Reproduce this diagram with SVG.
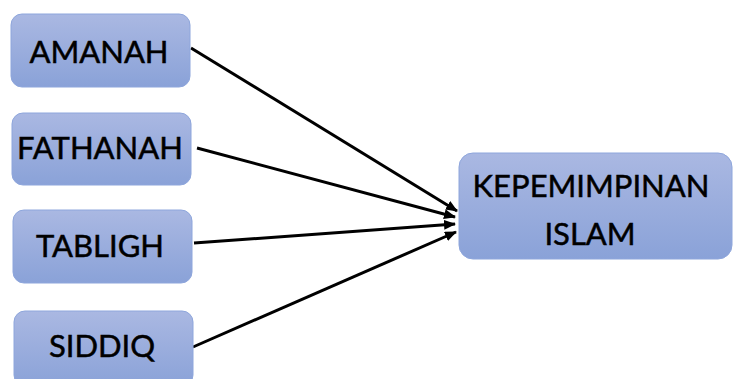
<svg xmlns="http://www.w3.org/2000/svg" width="733" height="379" viewBox="0 0 733 379">
<defs>
<linearGradient id="g" x1="0" y1="0" x2="0" y2="1">
<stop offset="0" stop-color="#aab8e2"/>
<stop offset="1" stop-color="#8aa2d8"/>
</linearGradient>
<marker id="ah" markerWidth="12" markerHeight="10" refX="11" refY="5" orient="auto" markerUnits="userSpaceOnUse">
<path d="M0,0 L12,5 L0,10 z" fill="#000"/>
</marker>
<style>
.box{fill:url(#g);stroke:#8ea6dc;stroke-width:1}
.t{font-family:Lato,"Open Sans","Liberation Sans",sans-serif;font-size:31px;fill:#000;stroke:#000;stroke-width:0.5;text-anchor:middle}
.c{stroke:#000;stroke-width:3;fill:none;marker-end:url(#ah)}
</style>
</defs>
<rect width="733" height="379" fill="#fff"/>
<g id="connectors">
<line class="c" x1="191" y1="48" x2="457" y2="211"/>
<line class="c" x1="197" y1="148" x2="455" y2="217"/>
<line class="c" x1="194" y1="243" x2="455" y2="224"/>
<line class="c" x1="193" y1="347" x2="456" y2="232"/>
</g>
<g id="amanah"><rect class="box" x="11" y="14" width="179" height="73" rx="11"/><text class="t" x="99" y="63">AMANAH</text></g>
<g id="fathanah"><rect class="box" x="12" y="113" width="179" height="72" rx="11"/><text class="t" x="100" y="159">FATHANAH</text></g>
<g id="tabligh"><rect class="box" x="13" y="210" width="179" height="73" rx="11"/><text class="t" x="100" y="257">TABLIGH</text></g>
<g id="siddiq"><rect class="box" x="14" y="311" width="179" height="75" rx="11"/><text class="t" x="102" y="357">SIDDIQ</text></g>
<g id="kepemimpinan"><rect class="box" x="459" y="153" width="273" height="106" rx="14"/><text class="t" x="591" y="197">KEPEMIMPINAN</text><text class="t" x="590" y="245">ISLAM</text></g>
</svg>
